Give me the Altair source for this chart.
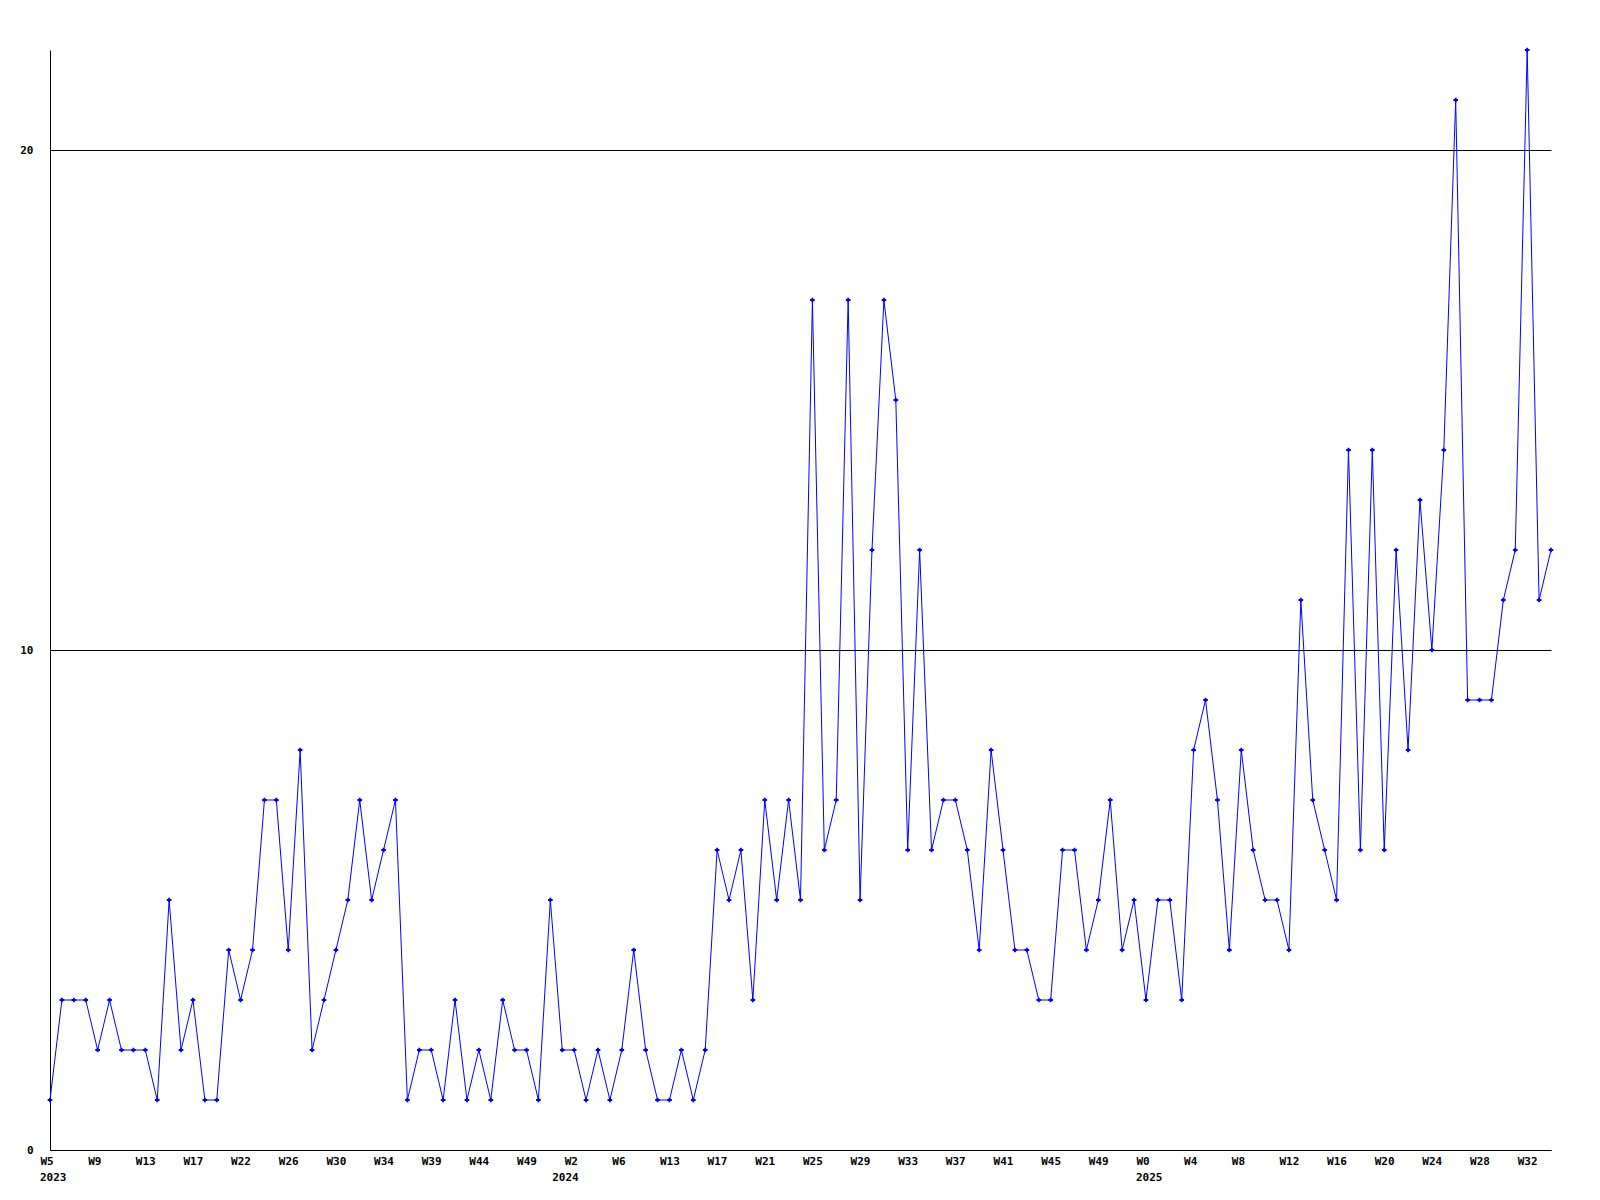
import altair as alt
import pandas as pd

# weekly values, one per week starting at W5 2023
values = [1, 3, 3, 3, 2, 3, 2, 2, 2, 1,
          5, 2, 3, 1, 1, 4, 3, 4, 7, 7,
          4, 8, 2, 3, 4, 5, 7, 5, 6, 7,
          1, 2, 2, 1, 3, 1, 2, 1, 3, 2,
          2, 1, 5, 2, 2, 1, 2, 1, 2, 4,
          2, 1, 1, 2, 1, 2, 6, 5, 6, 3,
          7, 5, 7, 5, 17, 6, 7, 17, 5, 12,
          17, 15, 6, 12, 6, 7, 7, 6, 4, 8,
          6, 4, 4, 3, 3, 6, 6, 4, 5, 7,
          4, 5, 3, 5, 5, 3, 8, 9, 7, 4,
          8, 6, 5, 5, 4, 11, 7, 6, 5, 14,
          6, 14, 6, 12, 8, 13, 10, 14, 21, 9,
          9, 9, 11, 12, 22, 11, 12]

# tick labels, placed on every 4th week
tick_labels = ["W5", "W9", "W13", "W17", "W22", "W26", "W30", "W34", "W39", "W44",
               "W49", "W2", "W6", "W13", "W17", "W21", "W25", "W29", "W33", "W37",
               "W41", "W45", "W49", "W0", "W4", "W8", "W12", "W16", "W20", "W24",
               "W28", "W32"]
# year labels and the week index where each year starts
year_names = ["2023", "2024", "2025"]
year_index = [0, 43, 92]

df = pd.DataFrame({"idx": list(range(len(values))), "value": values})
years_df = pd.DataFrame({"idx": year_index, "year": year_names})

label_expr = "[" + ",".join("'%s'" % l for l in tick_labels) + "][floor(datum.value/4)]"
tick_values = [4 * i for i in range(len(tick_labels))]

FONT = "DejaVu Sans Mono"
BLUE = "#0000ff"
H = 1100

xscale = alt.Scale(domain=[0, len(values) - 1], nice=False, zero=False)
x = alt.X("idx:Q", scale=xscale,
          axis=alt.Axis(values=tick_values, labelExpr=label_expr, title=None,
                        grid=False, ticks=False, domainColor="black", domainWidth=1,
                        labelFont=FONT, labelFontSize=11, labelFontWeight="bold",
                        labelColor="black", labelPadding=5, labelOverlap=False,
                        labelAlign="left", labelOffset=-10, labelFlush=False))
y = alt.Y("value:Q",
          scale=alt.Scale(domain=[0, 22], nice=False),
          axis=alt.Axis(values=[0, 10, 20], title=None, grid=True,
                        gridColor="black", gridOpacity=1, gridWidth=1,
                        ticks=False, domainColor="black", domainWidth=1,
                        labelFont=FONT, labelFontSize=11, labelFontWeight="bold",
                        labelColor="black", labelPadding=17))

base = alt.Chart(df)
line = base.mark_line(color=BLUE, strokeWidth=1).encode(x=x, y=y)
pts = base.mark_point(shape="cross", size=22, filled=True, color=BLUE, opacity=1).encode(x=x, y=y)
years = alt.Chart(years_df).mark_text(
    align="left", baseline="top", dx=-10, font=FONT, fontSize=11,
    fontWeight="bold", color="black"
).encode(x=alt.X("idx:Q", scale=xscale), y=alt.value(H + 22), text="year:N")

chart = (line + pts + years).properties(
    width=1501, height=H,
    autosize=alt.AutoSizeParams(type="none"),
    padding={"left": 42, "top": 42, "right": 40, "bottom": 40},
    background="white",
).configure_view(stroke=None)

chart.save("out.html", embed_options={"renderer": "svg", "actions": False})
